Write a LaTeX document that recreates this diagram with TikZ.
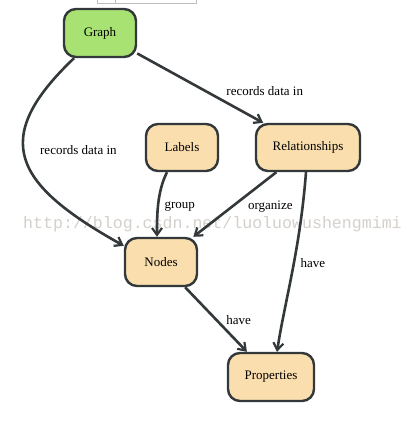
\documentclass[tikz,border=0pt]{standalone}
\usepackage{fontspec}
\setmainfont{Liberation Serif}
\newfontfamily\wmfont{Liberation Mono}
\usetikzlibrary{arrows.meta}
\definecolor{grfill}{RGB}{168,226,115}
\definecolor{pkfill}{RGB}{250,222,174}
\definecolor{edgec}{RGB}{51,56,58}
\definecolor{wmc}{RGB}{212,208,204}
\definecolor{uic}{RGB}{190,190,190}
\tikzset{
  box/.style={draw=edgec, line width=2.4pt, rounded corners=12pt, inner sep=0pt,
    minimum height=47pt, font=\fontsize{13}{15}\selectfont},
  conn/.style={draw=edgec, line width=2.6pt, -{Straight Barb[length=7pt,width=10pt,line width=2.2pt]}},
  elabel/.style={font=\fontsize{13}{15}\selectfont, inner sep=0pt}
}
\begin{document}
\begin{tikzpicture}[x=1pt,y=-1pt]
\useasboundingbox (0,0) rectangle (410,422);
\fill[white] (0,0) rectangle (410,422);
% partial UI box at top
\draw[uic, line width=0.8pt] (97,-2) -- (97,3) -- (196,3) -- (196,-2);
\draw[uic, line width=0.8pt] (115,-2) -- (115,3);
% watermark
\node[anchor=base west, inner sep=0pt, text=wmc, font=\wmfont\fontsize{16.6}{18}\selectfont] (wm) at (23,228) {http://blog.csdn.net/luoluowushengmimi};
% nodes
\node[box, fill=grfill, minimum width=72pt, minimum height=48pt] (G) at (100,33) {Graph};
\node[box, fill=pkfill, minimum width=72pt] (L) at (182,147.5) {Labels};
\node[box, fill=pkfill, minimum width=104pt] (R) at (308,147.5) {Relationships};
\node[box, fill=pkfill, minimum width=72pt, minimum height=48pt] (N) at (161,262) {Nodes};
\node[box, fill=pkfill, minimum width=86pt, minimum height=48pt] (P) at (271,377) {Properties};
% connectors
\path[conn] ([xshift=-26pt]G.south) .. controls (-12,140) and (15,185) .. ([yshift=-9pt]N.north west)
  node[elabel, pos=0.5, anchor=west, xshift=13pt, yshift=10pt] {records data in};
\path[conn] (G) -- (R)
  node[elabel, pos=0.5, anchor=west, xshift=25pt, yshift=-3pt] {records data in};
\path[conn] ([xshift=-15pt]L.south) .. controls (157,192) and (157,215) .. ([xshift=-4pt]N.north)
  node[elabel, pos=0.5, anchor=west, xshift=5pt, yshift=-3pt] {group};
\path[conn] (R) -- (N)
  node[elabel, pos=0.5, anchor=west, xshift=12pt, yshift=-2pt] {organize};
\path[conn] ([xshift=-2pt]R.south) .. controls (300,250) and (285,300) .. ([xshift=6pt]P.north)
  node[elabel, pos=0.5, anchor=west, xshift=7pt, yshift=9pt] {have};
\path[conn] (N) -- (P)
  node[elabel, pos=0.5, anchor=west, xshift=9pt, yshift=-1pt] {have};
\end{tikzpicture}
\end{document}
